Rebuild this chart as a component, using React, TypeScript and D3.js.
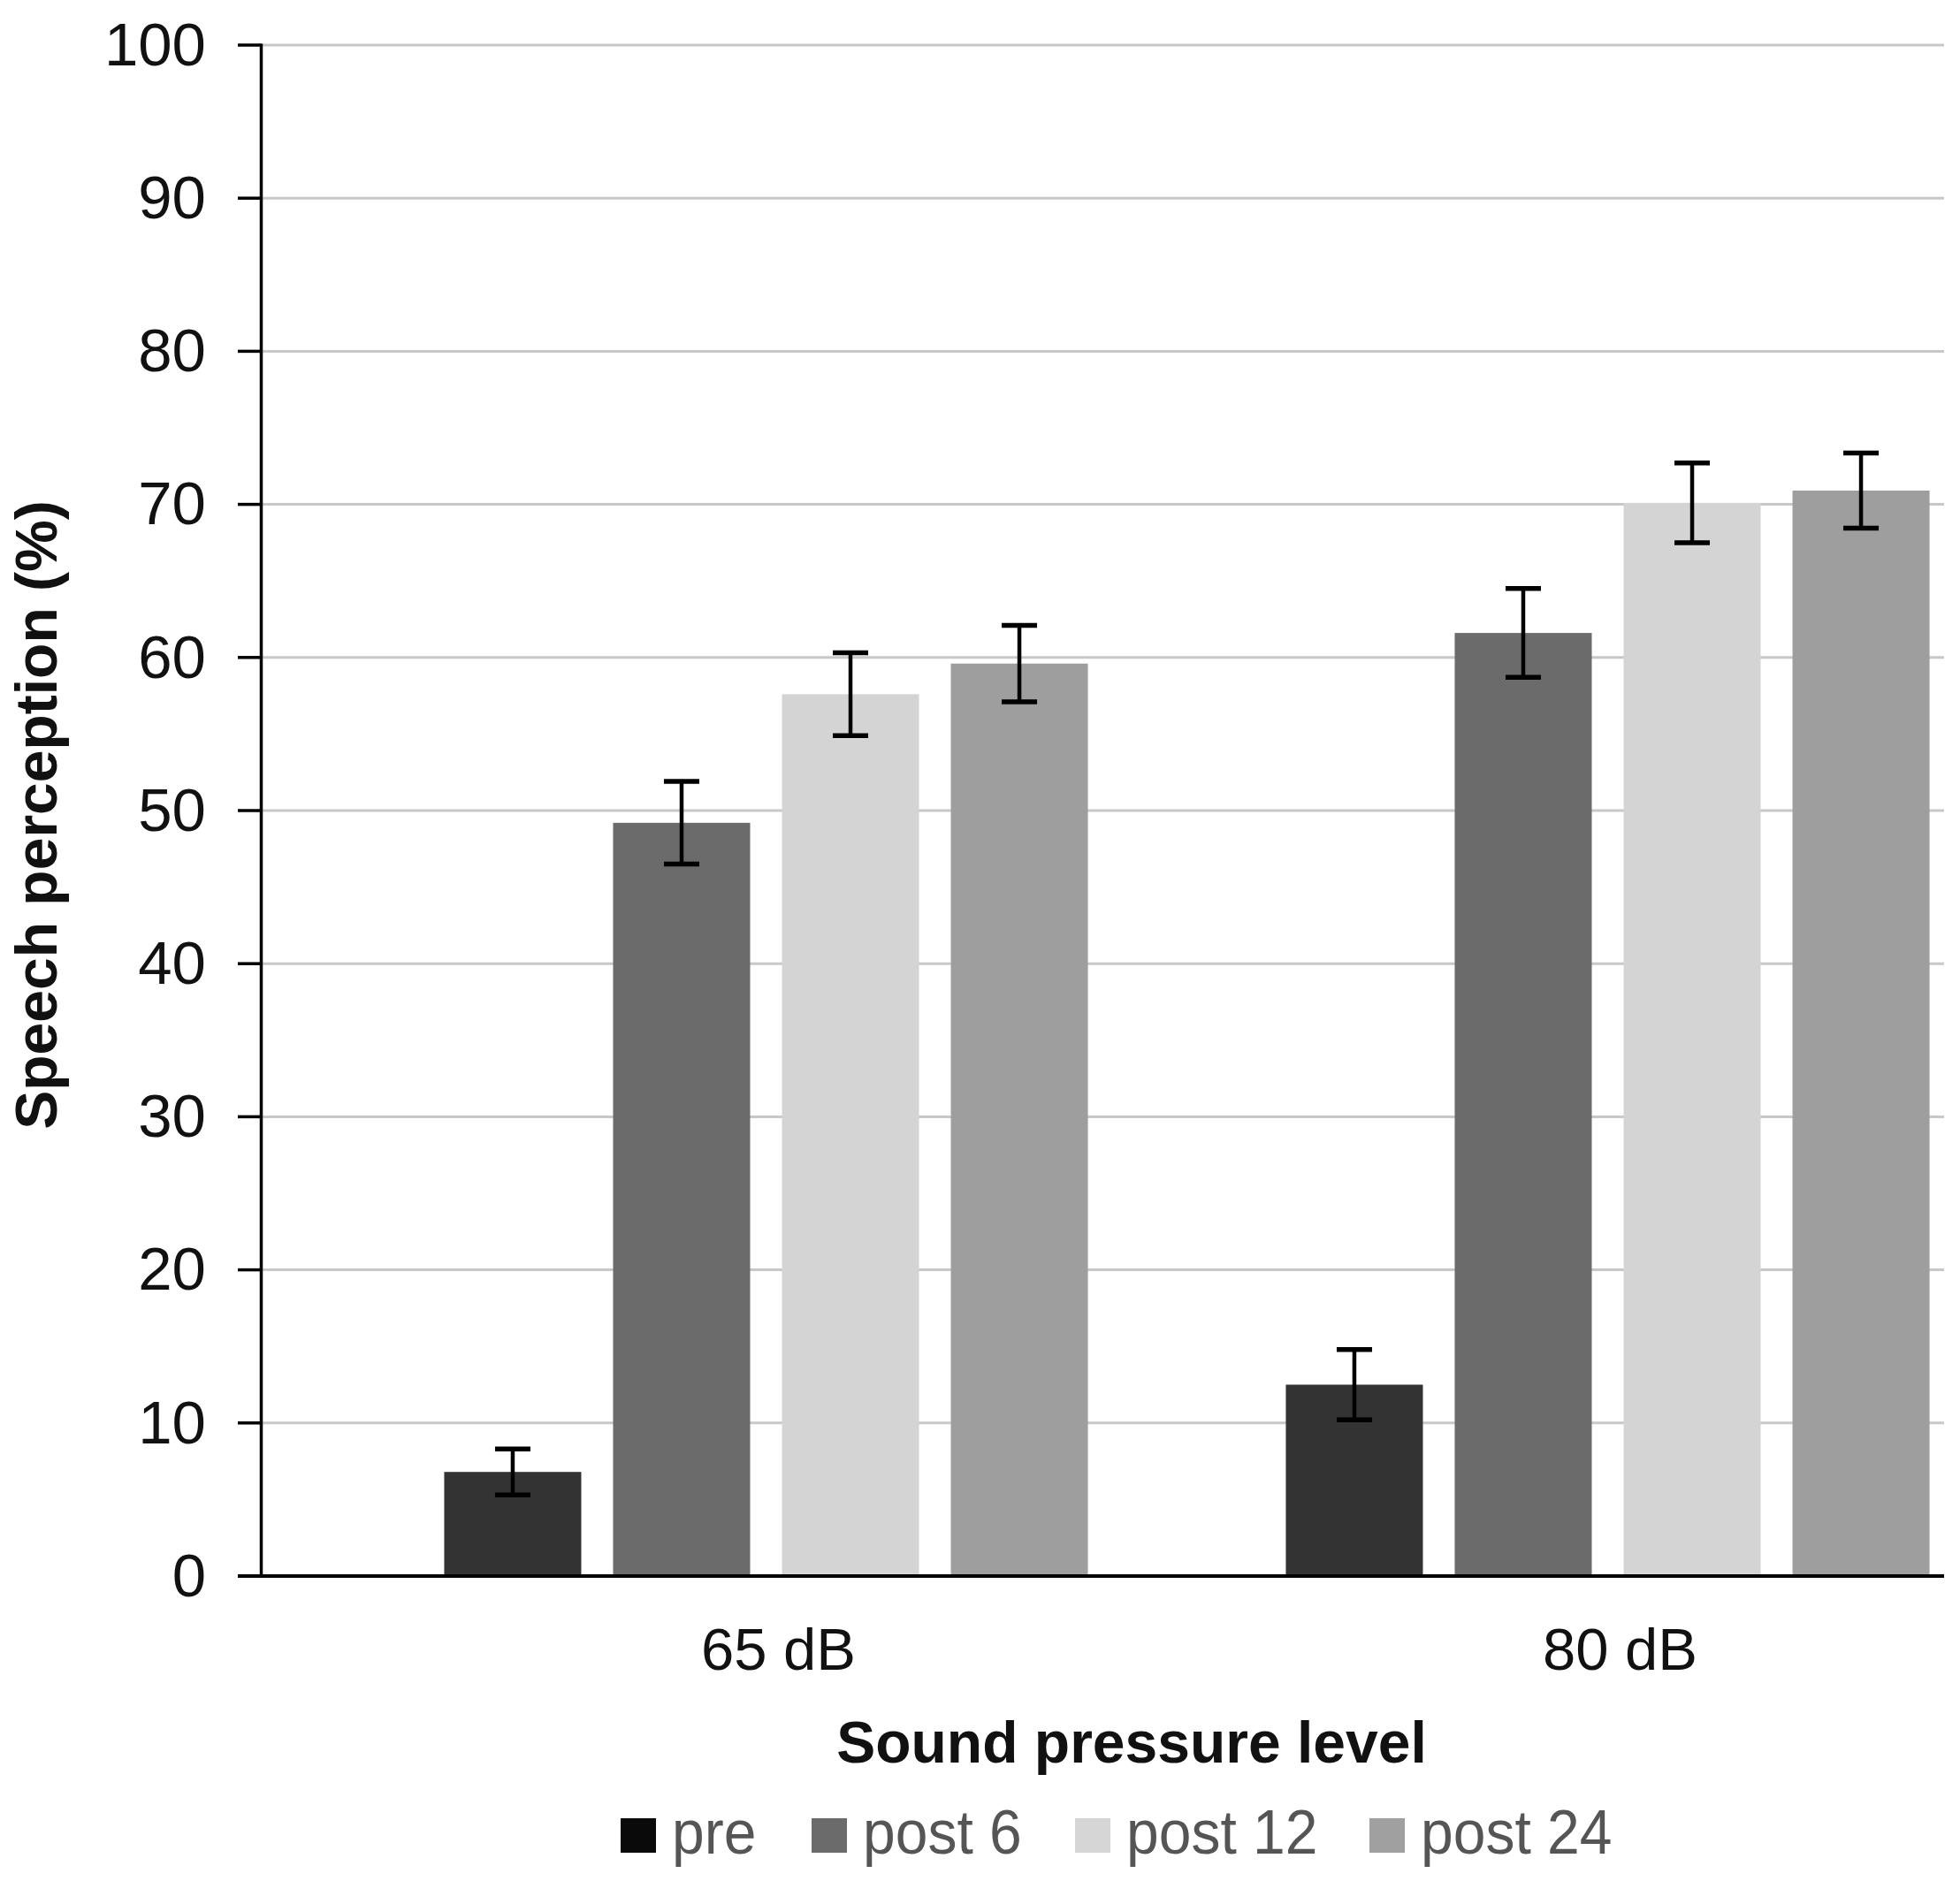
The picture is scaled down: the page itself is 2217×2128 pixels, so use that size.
import React from "react";
import * as d3 from "d3";

const categories = ["65 dB", "80 dB"];
const seriesNames = ["pre", "post 6", "post 12", "post 24"];
const preValues = [6.8, 12.5];
const post6Values = [49.2, 61.6];
const post12Values = [57.6, 70.1];
const post24Values = [59.6, 70.9];
const preErr = [1.5, 2.3];
const post6Err = [2.7, 2.9];
const post12Err = [2.7, 2.6];
const post24Err = [2.5, 2.45];
const yTicks = [0, 10, 20, 30, 40, 50, 60, 70, 80, 90, 100];

const barColors = ["#333333", "#6b6b6b", "#d4d4d4", "#9e9e9e"];
const legendColors = ["#0a0a0a", "#6b6b6b", "#d6d6d6", "#a0a0a0"];

const W = 2217;
const H = 2128;

export default function App() {
  const values = [preValues, post6Values, post12Values, post24Values];
  const errs = [preErr, post6Err, post12Err, post24Err];

  const axisX = 295.5;
  const gridRight = 2199;
  const y = d3.scaleLinear().domain([0, 100]).range([1783, 51]);
  const x0 = d3.scaleBand<string>().domain(categories).range([390.5, 390.5 + 1904]).padding(0);
  const x1 = d3
    .scaleBand<string>()
    .domain(seriesNames)
    .range([0, x0.bandwidth()])
    .paddingInner(0.1885)
    .paddingOuter(0.586);

  const tickFont = "'Liberation Sans', Arial, sans-serif";
  const legendFont = "'Liberation Sans', Arial, sans-serif";

  const legendX = [702, 918, 1216, 1549];

  return (
    <svg
      width={W}
      height={H}
      viewBox={`0 0 ${W} ${H}`}
      style={{ position: "absolute", left: 0, top: 0, background: "#fff" }}
    >
      <rect x={0} y={0} width={W} height={H} fill="#fff" />
      {/* gridlines */}
      {yTicks
        .filter((t) => t > 0)
        .map((t) => (
          <line
            key={"g" + t}
            x1={axisX}
            x2={gridRight}
            y1={y(t)}
            y2={y(t)}
            stroke="#c8c8c8"
            strokeWidth={3}
          />
        ))}
      {/* bars */}
      {categories.map((c, ci) => (
        <g key={c} transform={`translate(${x0(c)},0)`}>
          {seriesNames.map((s, si) => {
            const v = values[si][ci];
            const e = errs[si][ci];
            const bx = x1(s)!;
            const bw = x1.bandwidth();
            const cx = bx + bw / 2;
            const capW = 40;
            return (
              <g key={s}>
                <rect x={bx} y={y(v)} width={bw} height={y(0) - y(v)} fill={barColors[si]} />
                <line x1={cx} x2={cx} y1={y(v + e)} y2={y(v - e)} stroke="#000" strokeWidth={4.5} />
                <line x1={cx - capW / 2} x2={cx + capW / 2} y1={y(v + e)} y2={y(v + e)} stroke="#000" strokeWidth={5.5} />
                <line x1={cx - capW / 2} x2={cx + capW / 2} y1={y(v - e)} y2={y(v - e)} stroke="#000" strokeWidth={5.5} />
              </g>
            );
          })}
        </g>
      ))}
      {/* y axis */}
      <line x1={axisX} x2={axisX} y1={y(100) - 1.5} y2={y(0)} stroke="#000" strokeWidth={3.5} />
      {yTicks.map((t) => (
        <g key={"t" + t}>
          <line x1={269} x2={axisX} y1={y(t)} y2={y(t)} stroke="#000" strokeWidth={3.5} />
          <text
            x={233}
            y={y(t)}
            dy="0.33em"
            textAnchor="end"
            fontFamily={tickFont}
            fontSize={69}
            fill="#111"
          >
            {t}
          </text>
        </g>
      ))}
      {/* baseline */}
      <line x1={269} x2={gridRight} y1={y(0)} y2={y(0)} stroke="#000" strokeWidth={4} />
      {/* category labels */}
      {categories.map((c) => (
        <text
          key={"c" + c}
          x={x0(c)! + x0.bandwidth() / 2}
          dx={14}
          y={1889}
          textAnchor="middle"
          fontFamily={tickFont}
          fontSize={67}
          fill="#111"
        >
          {c}
        </text>
      ))}
      {/* axis titles */}
      <text
        x={1280}
        y={1994}
        textAnchor="middle"
        fontFamily={tickFont}
        fontWeight="bold"
        fontSize={66}
        fill="#111"
      >
        Sound pressure level
      </text>
      <text
        transform={`translate(64,922) rotate(-90)`}
        textAnchor="middle"
        fontFamily={tickFont}
        fontWeight="bold"
        fontSize={66}
        fill="#111"
      >
        Speech perception (%)
      </text>
      {/* legend */}
      {seriesNames.map((s, si) => (
        <g key={"l" + s}>
          <rect x={legendX[si]} y={2057} width={40} height={39} fill={legendColors[si]} />
          <text
            transform={`translate(${legendX[si] + 58},2097) scale(0.93,1)`}
            fontFamily={legendFont}
            fontSize={71}
            fill="#555"
          >
            {s}
          </text>
        </g>
      ))}
    </svg>
  );
}
